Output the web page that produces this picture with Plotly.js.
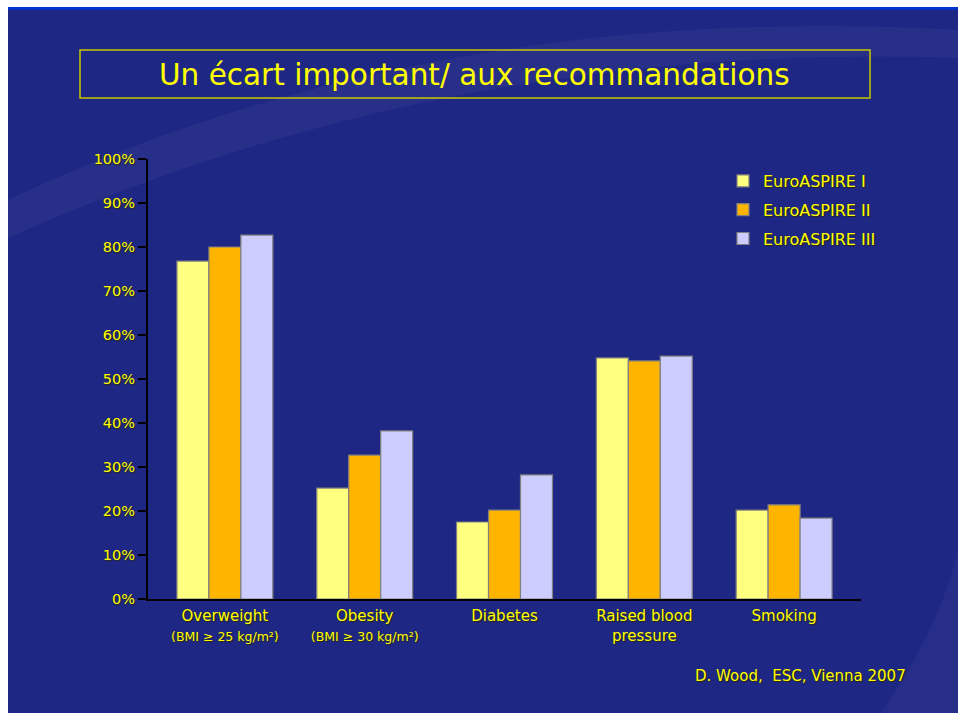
<!DOCTYPE html>
<html>
<head>
<meta charset="utf-8">
<script src="https://cdn.plot.ly/plotly-3.0.1.min.js"></script>
<style>html,body{margin:0;padding:0;background:#fff;}#chart{width:958px;height:713px;}</style>
</head>
<body>
<div id="chart"></div>
<script>
var categories = ["Overweight", "Obesity", "Diabetes", "Raised blood pressure", "Smoking"];
var tickLabels = [
  "Overweight<br><span style='font-size:12.5px'>(BMI ≥ 25 kg/m²)</span>",
  "Obesity<br><span style='font-size:12.5px'>(BMI ≥ 30 kg/m²)</span>",
  "Diabetes",
  "Raised blood<br>pressure",
  "Smoking"
];
var seriesNames = ["EuroASPIRE I", "EuroASPIRE II", "EuroASPIRE III"];
var euroAspireI   = [76.8, 25.2, 17.5, 54.8, 20.2];
var euroAspireII  = [80.0, 32.7, 20.2, 54.1, 21.4];
var euroAspireIII = [82.7, 38.2, 28.2, 55.2, 18.4];
var seriesColors = ["#ffff80", "#ffb400", "#ccccff"];
var yTicks = [0, 10, 20, 30, 40, 50, 60, 70, 80, 90, 100];

var FONT = "DejaVu Sans, sans-serif";
var SHADOW = "1px 1px 1px rgba(40,40,0,0.9)";
var YEL = "#ffff00";

// plot area in pixels
var PL = 148, PR = 861, PT = 159, PB = 599;
function fx(px){ return (px - PL) / (PR - PL); }
function fy(py){ return (PB - py) / (PB - PT); }
function P(px, py){ return fx(px) + "," + fy(py); }

var data = [euroAspireI, euroAspireII, euroAspireIII].map(function(vals, i){
  return {
    type: "bar",
    name: seriesNames[i],
    x: categories,
    y: vals,
    legendgroup: "g" + i,
    marker: {color: seriesColors[i], line: {color: "#808080", width: 1.2}},
    hoverinfo: "x+y"
  };
});

var bgPath = "M" + P(8,10) + " L" + P(960,10) + " L" + P(960,715) + " L" + P(8,715) + " Z";

// faint background swooshes
var swoosh1 = "M" + P(8,200) + " Q" + P(430,0) + " " + P(960,30) +
              " L" + P(960,58) + " Q" + P(450,40) + " " + P(8,238) + " Z";
var swoosh2 = "M" + P(880,715) + " Q" + P(945,620) + " " + P(960,540) +
              " L" + P(960,715) + " Z";

var layout = {
  width: 958, height: 713,
  margin: {l: PL, r: 958 - PR, t: PT, b: 713 - PB, pad: 0},
  paper_bgcolor: "#ffffff",
  plot_bgcolor: "rgba(0,0,0,0)",
  barmode: "group",
  bargap: 0.314,
  bargroupgap: 0,
  showlegend: true,
  legend: {
    x: fx(723), y: fy(164), xanchor: "left", yanchor: "top",
    bgcolor: "rgba(0,0,0,0)",
    font: {family: FONT, size: 16, color: YEL, shadow: SHADOW},
    traceorder: "grouped",
    tracegroupgap: 5,
    itemclick: false
  },
  xaxis: {
    type: "category",
    range: [-0.55, 4.55],
    tickvals: categories,
    ticktext: tickLabels,
    showline: true, linecolor: "#000000", linewidth: 2,
    ticks: "", showgrid: false, zeroline: false,
    tickfont: {family: FONT, size: 15, color: YEL, shadow: SHADOW},
    ticklabelstandoff: 2,
    fixedrange: true
  },
  yaxis: {
    range: [0, 100],
    tickvals: yTicks,
    ticktext: yTicks.map(function(v){ return v + "%"; }),
    showline: true, linecolor: "#000000", linewidth: 2,
    ticks: "outside", ticklen: 8, tickwidth: 2, tickcolor: "#000000",
    showgrid: false, zeroline: false,
    tickfont: {family: FONT, size: 14.5, color: YEL, shadow: SHADOW},
    fixedrange: true
  },
  shapes: [
    {type: "path", xref: "paper", yref: "paper", path: bgPath, fillcolor: "#1f2785", line: {width: 0}, layer: "below"},
    {type: "rect", xref: "paper", yref: "paper", x0: fx(8), x1: fx(960), y0: fy(7), y1: fy(10), fillcolor: "#0033cc", line: {width: 0}, layer: "below"},
    {type: "path", xref: "paper", yref: "paper", path: swoosh1, fillcolor: "rgba(255,255,255,0.04)", line: {width: 0}, layer: "below"},
    {type: "path", xref: "paper", yref: "paper", path: swoosh2, fillcolor: "rgba(255,255,255,0.035)", line: {width: 0}, layer: "below"},
    {type: "rect", xref: "paper", yref: "paper", x0: fx(80), x1: fx(870), y0: fy(50), y1: fy(98), fillcolor: "rgba(0,0,0,0)", line: {color: "#c8c800", width: 1.5}, layer: "below"}
  ],
  annotations: [
    {xref: "paper", yref: "paper", x: fx(474), y: fy(75), xanchor: "center", yanchor: "middle", showarrow: false,
     text: "Un écart important/ aux recommandations",
     font: {family: FONT, size: 29.5, color: YEL}},
    {xref: "paper", yref: "paper", x: fx(908), y: fy(676), xanchor: "right", yanchor: "middle", showarrow: false,
     text: "D. Wood,  ESC, Vienna 2007",
     font: {family: FONT, size: 15, color: YEL, shadow: SHADOW}}
  ]
};

Plotly.newPlot("chart", data, layout, {displayModeBar: false});
</script>
</body>
</html>
